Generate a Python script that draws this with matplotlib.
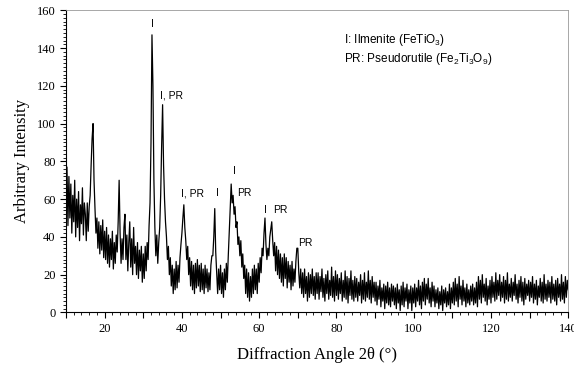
import numpy as np
import matplotlib
matplotlib.use("Agg")
import matplotlib.pyplot as plt
from matplotlib.ticker import MultipleLocator, FuncFormatter

# Diffraction pattern, one row per 5 degrees (step 0.25 deg)
two_theta = np.arange(10, 140.01, 0.25)
intensity = [
    62, 77, 46, 72, 50, 68, 42, 62, 48, 70, 40, 60, 45, 64, 38, 57, 47, 66, 41, 58,   # 10-15
    52, 38, 58, 43, 56, 62, 78, 92, 100, 70, 55, 42, 50, 34, 48, 31, 46, 33, 49, 29,  # 15-20
    43, 28, 45, 26, 41, 24, 39, 28, 43, 23, 37, 26, 41, 32, 48, 70, 42, 26, 39, 28,   # 20-25
    45, 52, 28, 41, 22, 37, 48, 24, 39, 20, 45, 26, 35, 20, 37, 18, 33, 22, 35, 16,   # 25-30
    31, 18, 35, 22, 37, 28, 46, 58, 90, 147, 120, 70, 45, 30, 41, 26, 37, 45, 62, 88, # 30-35
    110, 78, 60, 48, 40, 28, 35, 20, 29, 14, 25, 10, 23, 12, 27, 13, 25, 16, 29, 36,  # 35-40
    42, 50, 57, 45, 38, 28, 35, 20, 29, 14, 27, 12, 25, 10, 26, 13, 28, 14, 25, 11,   # 40-45
    26, 12, 23, 10, 25, 13, 23, 11, 21, 12, 25, 30, 30, 40, 55, 32, 21, 10, 23, 12,   # 45-50
    25, 10, 21, 8, 23, 12, 26, 16, 30, 42, 55, 68, 58, 62, 52, 56, 45, 48, 36, 40,    # 50-55
    30, 38, 24, 31, 18, 25, 10, 23, 8, 21, 6, 19, 8, 23, 10, 25, 12, 23, 10, 26,      # 55-60
    16, 29, 21, 34, 30, 42, 50, 36, 28, 34, 30, 40, 44, 48, 38, 30, 37, 22, 35, 20,   # 60-65
    33, 18, 31, 16, 29, 14, 31, 18, 29, 13, 27, 16, 25, 12, 27, 14, 23, 16, 27, 34,   # 65-70
    34, 21, 13, 23, 10, 21, 8, 23, 10, 19, 6, 21, 8, 20, 10, 23, 9, 19, 7, 21,        # 70-75
    10, 21, 7, 19, 11, 23, 8, 18, 6, 20, 10, 22, 7, 17, 9, 24, 8, 19, 6, 22,          # 75-80
    9, 20, 7, 18, 10, 21, 6, 17, 8, 22, 7, 19, 5, 18, 9, 22, 7, 17, 6, 19,            # 80-85
    8, 18, 6, 16, 9, 20, 5, 17, 7, 21, 6, 16, 8, 22, 7, 17, 5, 19, 8, 16,             # 85-90
    6, 16, 4, 14, 7, 17, 3, 13, 6, 15, 2, 14, 5, 16, 4, 13, 3, 15, 6, 14,             # 90-95
    4, 13, 2, 15, 5, 12, 1, 14, 4, 16, 3, 13, 6, 15, 2, 12, 5, 14, 1, 13,             # 95-100
    5, 15, 3, 13, 6, 17, 4, 14, 2, 16, 6, 18, 4, 15, 7, 18, 5, 13, 3, 16,             # 100-105
    6, 14, 3, 12, 5, 13, 2, 11, 4, 14, 1, 12, 5, 13, 3, 11, 4, 15, 2, 13,             # 105-110
    5, 16, 4, 18, 6, 15, 3, 19, 7, 14, 4, 17, 6, 13, 3, 15, 5, 12, 4, 14,             # 110-115
    6, 15, 4, 13, 5, 16, 3, 19, 7, 17, 5, 20, 8, 15, 6, 18, 4, 14, 7, 17,             # 115-120
    5, 19, 8, 16, 6, 21, 7, 17, 9, 20, 6, 16, 8, 19, 5, 17, 7, 21, 6, 15,             # 120-125
    8, 18, 6, 16, 9, 20, 7, 15, 5, 17, 8, 19, 6, 16, 4, 18, 7, 15, 9, 17,             # 125-130
    6, 16, 8, 19, 5, 15, 7, 17, 4, 14, 8, 18, 6, 16, 5, 20, 7, 15, 6, 17,             # 130-135
    8, 16, 5, 19, 7, 15, 6, 17, 4, 18, 8, 15, 6, 20, 7, 16, 5, 19, 8, 17,             # 135-140
    12,
]

# Phase labels over the peaks: (text, 2theta, intensity)
peak_labels = [
    ("I", 32.0, 153),
    ("I, PR", 34.4, 115),
    ("I, PR", 39.8, 63),
    ("I", 48.9, 63),
    ("I", 53.3, 75),
    ("PR", 54.3, 63),
    ("I", 61.3, 54),
    ("PR", 63.6, 54),
    ("PR", 70.0, 37),
]

plt.rcParams['mathtext.fontset'] = 'custom'
plt.rcParams['mathtext.rm'] = 'Liberation Sans'
plt.rcParams['mathtext.it'] = 'Liberation Sans'

fig = plt.figure(figsize=(5.74, 3.68), dpi=100)
ax = fig.add_axes([0.115, 0.151, 0.875, 0.821])

ax.plot(two_theta, intensity, color='black', linewidth=0.9)

ax.set_xlim(10, 140)
ax.set_ylim(0, 160)

serif = 'Liberation Serif'
ax.xaxis.set_major_locator(MultipleLocator(10))
ax.xaxis.set_minor_locator(MultipleLocator(2))
ax.xaxis.set_major_formatter(FuncFormatter(lambda v, p: f"{v:.0f}" if v % 20 == 0 and v > 10 else ""))
ax.yaxis.set_major_locator(MultipleLocator(20))
ax.yaxis.set_minor_locator(MultipleLocator(2))
ax.tick_params(which='major', direction='out', length=4, width=0.8, labelsize=9)
ax.tick_params(which='minor', direction='out', length=2, width=0.6)
for lbl in ax.get_xticklabels() + ax.get_yticklabels():
    lbl.set_fontfamily(serif)

for side in ['top', 'right']:
    ax.spines[side].set_color('#999999')
    ax.spines[side].set_linewidth(0.6)

ax.set_xlabel('Diffraction Angle 2θ (°)', fontsize=12, family=serif, labelpad=9)
ax.set_ylabel('Arbitrary Intensity', fontsize=12, family=serif, labelpad=5)

for txt, x, y in peak_labels:
    ax.text(x, y, txt, fontsize=7.5, family='Liberation Sans', ha='left', va='center')

ax.text(0.554, 0.87, 'I: Ilmenite (FeTiO$_3$)\nPR: Pseudorutile (Fe$_2$Ti$_3$O$_9$)',
        transform=ax.transAxes, fontsize=8.5, family='Liberation Sans',
        ha='left', va='center', linespacing=1.3)

fig.savefig('out.png', dpi=100)
